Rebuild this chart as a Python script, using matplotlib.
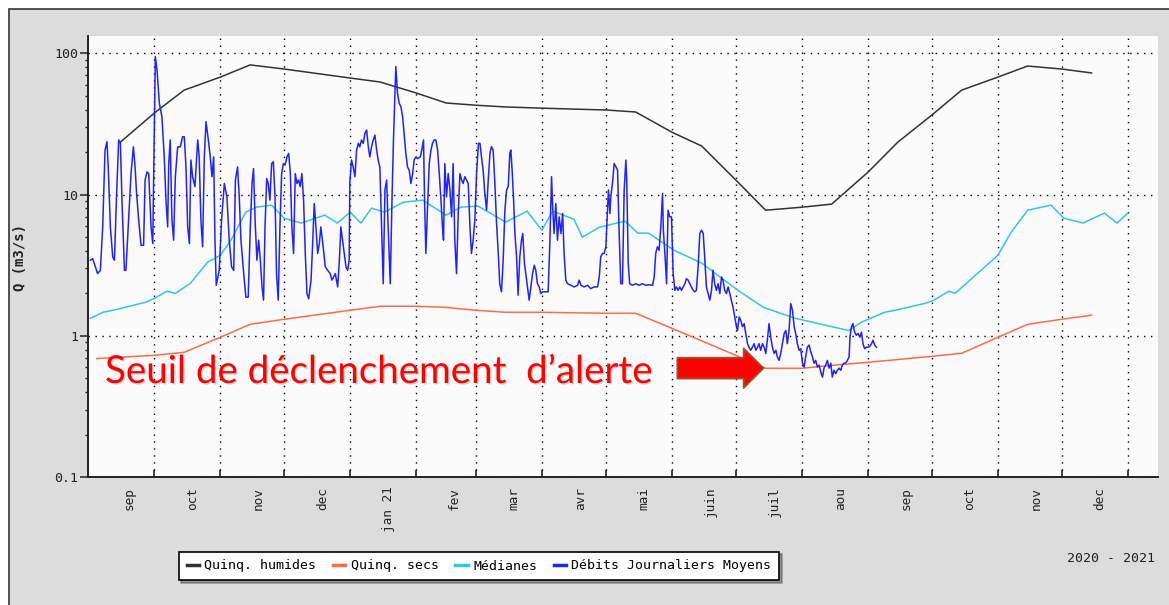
import numpy as np
import matplotlib

matplotlib.use("Agg")
import matplotlib.pyplot as plt
import matplotlib.dates as mdates
from matplotlib.patches import Rectangle
from matplotlib.lines import Line2D
from matplotlib.ticker import LogLocator, NullFormatter
from matplotlib import patheffects

W, H, DPI = 1169, 605, 100
MONO = "DejaVu Sans Mono"

# Quinquennale humide
hum_dates = ["2020-09-15", "2020-10-01", "2020-10-15", "2020-11-01", "2020-11-15", "2020-12-01",
             "2021-01-01", "2021-01-15", "2021-02-01", "2021-02-15", "2021-03-01", "2021-03-15",
             "2021-04-01", "2021-04-15", "2021-05-01", "2021-05-15", "2021-06-01", "2021-06-15",
             "2021-07-01", "2021-07-15", "2021-08-01", "2021-08-15", "2021-09-01", "2021-09-15",
             "2021-10-01", "2021-10-15", "2021-11-01", "2021-11-15", "2021-12-01", "2021-12-15"]
hum_vals = [23.5, 37.8, 55, 68, 83, 77.6, 67, 62.8, 52.5, 44.6, 43, 41.8, 41, 40.4, 39.8, 38.5,
            27.7, 22.1, 12.7, 7.76, 8.15, 8.57, 14.4, 23.5, 36.6, 55, 68, 81.5, 77.6, 72.8]

# Quinquennale seche
sec_dates = ["2020-09-04", "2020-10-01", "2020-10-15", "2020-11-01", "2020-11-15", "2020-12-01",
             "2021-01-01", "2021-01-15", "2021-02-01", "2021-02-15", "2021-03-01", "2021-03-15",
             "2021-04-01", "2021-05-01", "2021-05-15", "2021-06-01", "2021-07-01", "2021-07-15",
             "2021-08-01", "2021-08-15", "2021-09-01", "2021-10-01", "2021-10-15", "2021-11-01",
             "2021-11-15", "2021-12-01", "2021-12-15"]
sec_vals = [0.69, 0.728, 0.764, 0.976, 1.207, 1.31, 1.517, 1.62, 1.62, 1.59, 1.517, 1.468,
            1.468, 1.445, 1.445, 1.13, 0.728, 0.589, 0.589, 0.618, 0.649, 0.716, 0.752, 0.976,
            1.207, 1.31, 1.40]

# Medianes
med_dates = ["2020-09-01", "2020-09-07", "2020-09-12", "2020-09-27", "2020-10-01", "2020-10-07",
             "2020-10-11", "2020-10-18", "2020-10-26", "2020-11-01", "2020-11-06", "2020-11-13",
             "2020-11-18", "2020-11-25", "2020-12-01", "2020-12-09", "2020-12-20", "2020-12-26",
             "2021-01-01", "2021-01-06", "2021-01-11", "2021-01-17", "2021-01-26", "2021-02-04",
             "2021-02-15", "2021-02-22", "2021-03-02", "2021-03-15", "2021-03-25", "2021-04-01",
             "2021-04-06", "2021-04-16", "2021-04-20", "2021-04-28", "2021-05-02", "2021-05-10",
             "2021-05-16", "2021-05-21", "2021-06-02", "2021-06-15", "2021-07-02", "2021-07-14",
             "2021-07-29", "2021-08-23", "2021-08-29", "2021-09-09", "2021-09-14", "2021-09-28",
             "2021-10-02", "2021-10-09", "2021-10-12", "2021-11-01", "2021-11-07", "2021-11-15",
             "2021-11-26", "2021-12-02", "2021-12-11", "2021-12-21", "2021-12-27", "2022-01-01"]
med_vals = [1.33, 1.47, 1.52, 1.73, 1.84, 2.07, 2.00, 2.36, 3.32, 3.72, 4.76, 7.52,
            8.16, 8.43, 6.81, 6.29, 7.16, 6.29, 7.52, 6.29, 8.02, 7.52, 8.85, 9.14,
            7.16, 8.16, 8.30, 6.39, 7.64, 5.60, 7.64, 6.70, 5.00, 5.89, 6.08, 6.49,
            5.34, 5.34, 4.04, 3.27, 2.10, 1.59, 1.33, 1.09, 1.25, 1.47, 1.52, 1.70,
            1.79, 2.07, 2.00, 3.72, 5.34, 7.76, 8.43, 6.81, 6.29, 7.40, 6.29, 7.40]

# Debits journaliers (jours depuis le 01/09/2020)
blue_days_a = [0, 1.1, 3.4, 4.7, 5.8, 6.9, 7.8, 8.4, 9.4, 10.5, 11.3, 12.4, 13.3, 14.1, 14.9,
               16, 16.7, 17.8, 19.1, 20.2, 21, 21.7, 22.7, 23.8, 25, 25.7, 26.6, 27.4, 28.5, 29.3,
               30, 30.5, 31.3, 32.4, 33.6, 34.7, 35.5, 36.3, 36.8, 37.5, 38.3, 39.1, 39.9, 41,
               42.2, 43.3, 44.1, 44.9, 45.7, 46.5, 47.2, 48, 49.1, 50.4, 51.1, 51.9, 52.7, 53.5,
               54.3, 55.4, 56.3, 57.1, 57.9, 58.5, 59.1]
blue_vals_a = [3.43, 3.52, 2.76, 2.91, 5.91, 20.7, 23.7, 15.7, 5.91, 3.62, 3.43, 10.8, 24.4, 23.1,
               8.65, 2.91, 2.91, 5.91, 14.1, 21.8, 15.7, 10.2, 6.59, 4.38, 4.38, 12.7, 14.5, 14.1,
               5.91, 4.50, 28.7, 95, 76.4, 44.3, 35.7, 18.5, 9.14, 5.91, 16.6, 24.4, 6.59, 4.76,
               13.4, 21.8, 21.8, 25.7, 25.7, 15.7, 5.91, 4.50, 17.6, 13.4, 11.4, 24.4, 18.5, 6.59,
               4.27, 18.5, 32.9, 24.4, 18.5, 13.4, 18.5, 4.76, 2.28]

blue_days_b = [60.5, 61.6, 62.9, 64.1, 65.2, 66.3, 67.3, 68.1, 69.1, 69.9, 70.7, 72.0, 73.0, 74.1,
               75.1, 75.9, 76.6, 77.4, 78.2, 79.0, 79.8, 80.6, 81.3, 82.0, 82.8, 83.5, 84.3, 85.1,
               85.9, 86.7, 87.4, 88.2, 89.0, 89.8, 90.6, 91.4, 92.3, 93.1, 93.9, 94.6, 95.4, 96.2,
               97.0, 97.8, 98.5, 99.3, 100.1, 100.9, 101.7, 102.5, 103.6, 104.3, 105.1, 105.9,
               106.7, 107.5, 108.2, 109.3, 110.3, 111.4, 112.6, 113.4, 114.2, 115.0, 116.1, 116.9,
               117.6, 118.4, 119.2, 120.0, 120.8, 121.5]
blue_vals_b = [2.91, 6.59, 12.0, 9.66, 4.76, 3.08, 2.91, 12.7, 15.7, 9.66, 4.76, 2.76, 1.88, 1.88,
               5.91, 12.0, 15.3, 6.24, 3.43, 4.76, 3.43, 2.22, 1.79, 5.91, 13.0, 12.0, 9.14, 16.6,
               17.1, 9.66, 2.76, 1.79, 5.91, 14.1, 16.6, 16.2, 18.5, 19.6, 14.1, 5.91, 3.83, 14.1,
               12.0, 12.7, 11.4, 14.1, 9.14, 3.83, 1.99, 1.83, 2.48, 4.27, 8.65, 5.91,
               3.83, 4.50, 5.91, 4.27, 3.08, 2.91, 2.76, 2.48, 2.61, 2.76, 2.22, 3.43,
               5.91, 4.76, 3.83, 3.08, 2.91, 3.43]

blue_days_c = [121.8, 122.6, 123.4, 124.2, 125.0, 125.8, 126.5, 127.3, 128.1, 128.9, 129.7, 130.5,
               131.2, 132.0, 132.8, 133.6, 134.4, 135.1, 135.9, 136.7, 137.5, 138.3, 139.1, 139.8,
               140.8, 141.6, 142.3, 143.0, 143.4, 144.2, 145.0, 145.8, 146.6, 147.3, 148.1, 148.9,
               149.7, 150.5, 151.3, 152.0, 152.8, 153.6, 154.9, 155.6, 156.4, 156.9, 157.5, 158.3,
               159.1, 159.9, 160.6, 161.4, 162.2, 163.0, 163.8, 164.6, 165.3, 165.8, 166.4, 167.2,
               168.0, 168.8, 169.6, 170.3, 171.1, 171.9, 172.7, 173.5, 174.3, 175.0, 175.8, 176.6,
               177.4, 178.2, 178.9, 179.7, 180.5, 181.3, 182.2]
blue_vals_c = [12.0, 17.6, 15.7, 13.4, 20.7, 23.1, 21.8, 24.4, 23.1, 27.2, 28.7, 21.8,
               18.5, 21.8, 24.4, 26.4, 20.7, 17.6, 15.7, 5.91, 2.34, 10.8, 12.7, 5.91,
               2.34, 9.14, 24.4, 52.2, 80.7, 52.2, 44.3, 42.0, 35.7, 27.2, 19.6, 15.7,
               14.9, 12.0, 14.1, 17.6, 18.5, 18.0, 18.5, 20.7, 24.4, 9.14, 3.83, 8.19,
               16.6, 20.7, 23.1, 24.4, 24.4, 20.7, 14.1, 9.14, 5.91, 4.76, 16.6, 9.66,
               14.1, 10.8, 6.96, 16.6, 4.76, 2.76, 7.35, 14.1, 12.7, 12.0, 13.4, 12.7,
               12.0, 5.91, 3.83, 4.76, 6.59, 14.1, 23.1]

blue_days_d = [182.9, 183.6, 184.4, 185.2, 186.0, 186.8, 187.6, 188.3, 189.1, 189.9, 190.7, 191.5,
               192.2, 193.0, 193.8, 194.6, 195.4, 196.2, 196.9, 197.4, 198.0, 198.7, 199.3, 200.1,
               200.8, 201.6, 202.4, 203.0, 203.8, 204.6, 205.4, 206.0, 206.8, 207.6, 208.4, 209.1,
               209.9, 210.7, 211.5, 212.3, 213.4, 214.9, 215.7, 216.5, 217.1, 217.7, 218.5, 219.3,
               220.1, 220.9, 221.7, 222.4, 223.2, 224.0, 225.6, 227.1, 228.7, 229.5, 230.3, 231.8,
               233.4, 234.9, 236.5, 238.1, 238.9, 239.6, 240.4, 241.2, 242.0, 242.8, 243.2]
blue_vals_d = [23.1, 18.6, 14.9, 10.2, 7.76, 12.7, 19.6, 21.9, 20.7, 12.0, 6.25, 3.83,
               2.34, 2.05, 3.43, 7.76, 10.8, 11.4, 19.6, 20.7, 14.9, 9.14, 5.31, 3.63,
               1.94, 3.63, 4.76, 5.31, 3.25, 2.61, 2.10, 1.79, 2.22, 2.76, 3.16, 2.92,
               2.34, 2.22, 1.99, 2.05, 2.05, 2.05, 4.51, 13.4, 7.76, 5.31, 8.65, 4.76,
               6.96, 5.31, 7.35, 3.83, 2.48, 2.34, 2.28, 2.22, 2.28, 2.48, 2.28, 2.22,
               2.28, 2.16, 2.22, 2.22, 2.61, 3.63, 3.83, 3.83, 4.27, 7.76, 10.8]

blue_days_e = [243.9, 244.3, 245.1, 245.9, 246.7, 247.5, 248.2, 249.0, 249.8, 250.6,
               251.4, 251.8, 252.5, 253.2, 254.5, 256.1, 257.6, 259.2, 260.8, 262.3,
               263.9, 264.7, 265.4, 266.2, 267.0, 267.8, 268.6, 269.0, 269.8, 270.5,
               271.2, 272.0, 272.8, 273.6, 274.4, 275.1, 275.9, 276.7, 277.5, 278.3,
               279.1, 279.8, 280.6, 281.4, 282.2, 283.0, 283.7, 284.5, 285.3, 286.1,
               286.9, 287.7, 288.4, 289.2, 290.0, 290.8, 291.6, 292.3, 293.1, 293.9,
               294.7, 295.5, 296.3, 297.0, 297.8, 298.6, 299.4, 300.2, 300.9, 301.7,
               302.5, 303.3, 303.8, 304.6, 305.3, 306.1, 306.9, 307.7, 308.5, 309.2,
               310.0, 310.8, 311.6, 312.4, 313.2, 313.9, 314.7, 315.5, 316.3, 317.1,
               317.8, 318.6, 319.4, 320.2, 321.0, 321.8, 322.5, 323.3, 324.1, 324.9,
               325.7, 326.5, 327.2, 328.0, 328.8, 329.6, 330.4, 331.1, 331.9, 332.7,
               333.5, 334.3, 335.1, 335.8, 336.6, 337.4, 338.2, 339.0, 339.7, 340.5,
               341.3, 342.1, 342.9, 343.7, 344.4, 345.2, 346.0, 346.8, 347.6, 348.3,
               349.1, 349.9, 350.7, 351.5, 352.3, 353.0, 353.8, 354.6, 355.4, 356.2,
               356.6, 357.3, 358.0, 358.8, 359.6, 360.4, 361.2, 362.0, 362.7, 363.5,
               364.3, 365.1, 365.9, 366.7, 367.4, 368.2, 369.0]
blue_vals_e = [7.35, 9.66, 12.0, 16.6, 15.8, 14.9, 5.60, 2.34, 2.34, 10.8,
               17.6, 12.7, 3.25, 2.34, 2.28, 2.34, 2.28, 2.34, 2.28, 2.30,
               2.28, 2.61, 3.83, 4.27, 4.04, 5.91, 10.2, 5.60, 3.63, 2.34,
               7.76, 6.96, 6.96, 2.76, 2.10, 2.22, 2.10, 2.22, 2.10, 2.22,
               2.34, 2.54, 2.48, 2.34, 2.22, 2.10, 2.05, 2.10, 3.08, 5.31,
               5.60, 5.31, 3.63, 2.22, 1.99, 1.79, 2.10, 2.92, 2.34, 2.10,
               2.34, 1.99, 2.61, 2.48, 2.10, 1.99, 2.22, 1.99, 1.79, 1.60,
               1.36, 1.16, 1.09, 1.36, 1.29, 1.16, 1.22, 1.04, 0.88, 0.83,
               0.79, 0.83, 0.88, 0.79, 0.83, 0.88, 0.79, 0.88, 0.83, 0.75,
               0.93, 1.22, 0.98, 0.83, 0.75, 0.79, 0.71, 0.67, 0.75, 0.88,
               1.04, 1.09, 0.88, 1.09, 1.69, 1.52, 1.16, 1.04, 0.88, 0.79,
               0.81, 0.64, 0.60, 0.71, 0.83, 0.86, 0.77, 0.71, 0.64, 0.67,
               0.60, 0.62, 0.555, 0.51, 0.59, 0.62, 0.67, 0.59, 0.64, 0.51,
               0.57, 0.54, 0.57, 0.59, 0.57, 0.62, 0.64, 0.64, 0.67, 0.71,
               0.98, 1.16, 1.22, 1.06, 1.01, 1.04, 0.98, 1.06, 0.88, 0.81,
               0.83, 0.83, 0.84, 0.88, 0.93, 0.86, 0.83]

month_labels = ["sep", "oct", "nov", "dec", "jan 21", "fev", "mar", "avr", "mai", "juin",
                "juil", "aou", "sep", "oct", "nov", "dec"]
y_ticks = [0.1, 1, 10, 100]
y_ticklabels = ["0.1", "1", "10", "100"]
arrow_tip = ("2021-07-14", 0.59)


def to_num(dates):
    return mdates.date2num(np.array(dates, dtype="datetime64[D]"))


base = mdates.date2num(np.datetime64("2020-09-01"))
blue_x = base + np.concatenate([blue_days_a, blue_days_b, blue_days_c, blue_days_d, blue_days_e])
blue_y = np.concatenate([blue_vals_a, blue_vals_b, blue_vals_c, blue_vals_d, blue_vals_e])

fig = plt.figure(figsize=(W / DPI, H / DPI), dpi=DPI, facecolor="white")
# panneau gris avec bord sombre en haut et a gauche
fig.patches.append(Rectangle((9 / W, -0.05), 1.2, 1.05 - 9 / H, transform=fig.transFigure,
                             facecolor="#dcdcdc", edgecolor="#333333", linewidth=1.2, zorder=-10))

ax = fig.add_axes([88 / W, 1 - 477 / H, (1158 - 88) / W, (477 - 36) / H])
ax.set_facecolor("#fafbfa")

ax.plot(to_num(hum_dates), hum_vals, color="#333333", lw=1.1, label="Quinq. humides")
ax.plot(to_num(sec_dates), sec_vals, color="#ff6d4e", lw=1.1, label="Quinq. secs")
ax.plot(to_num(med_dates), med_vals, color="#35c4ea", lw=1.1, label="Médianes")
ax.plot(blue_x, blue_y, color="#2222ff", lw=1.1, label="Débits Journaliers Moyens")

ax.set_yscale("log")
ax.set_ylim(0.1, 133)
ax.set_xlim(base - 1.1, base + 501.2)

# grille mensuelle + libelles de mois au milieu
month_starts = np.arange("2020-10", "2022-02", dtype="datetime64[M]").astype("datetime64[D]")
label_pos = np.arange("2020-09", "2022-01", dtype="datetime64[M]").astype("datetime64[D]") + 18
ax.set_xticks(mdates.date2num(month_starts))
ax.set_xticks(mdates.date2num(label_pos), minor=True)
ax.set_xticklabels([], minor=False)
ax.set_xticklabels(month_labels, minor=True, rotation=90, family=MONO, fontsize=9.2, color="#222")
ax.tick_params(axis="x", which="major", direction="in", length=5, width=1.2, color="#222")
ax.tick_params(axis="x", which="minor", length=0, pad=7)

ax.set_yticks(y_ticks)
ax.set_yticklabels(y_ticklabels, family=MONO, fontsize=9.5, color="#222")
ax.yaxis.set_minor_locator(LogLocator(base=10, subs=np.arange(2, 10)))
ax.yaxis.set_minor_formatter(NullFormatter())
ax.tick_params(axis="y", which="major", direction="out", length=6, width=1.1, pad=1, color="#222")
ax.tick_params(axis="y", which="minor", direction="out", length=2.5, width=1.0, color="#222")

ax.grid(True, which="major", color="black", linestyle=(0, (1, 4)), linewidth=1.0)
ax.set_axisbelow(True)
for side in ("top", "right"):
    ax.spines[side].set_visible(False)
for side in ("left", "bottom"):
    ax.spines[side].set_linewidth(1.4)
    ax.spines[side].set_color("#222")

ax.set_ylabel("Q (m3/s)", family=MONO, weight="bold", fontsize=10, color="#222")
ax.yaxis.set_label_coords((27 - 88) / (1158 - 88), 0.497)

# fleche vers le seuil
ax.annotate("", xy=(to_num([arrow_tip[0]])[0], arrow_tip[1]), xytext=(-62, 0),
            textcoords="offset points",
            arrowprops=dict(arrowstyle="simple,head_length=0.95,head_width=1.9,tail_width=1.0",
                            mutation_scale=15, fc="#ff0000", ec="#a0522d", lw=1.3,
                            shrinkA=0, shrinkB=0))

handles = [Line2D([], [], color=l.get_color(), lw=2.5) for l in ax.get_lines()]
labels = [l.get_label() for l in ax.get_lines()]
leg = fig.legend(handles, labels, loc="center", bbox_to_anchor=(479 / W, 1 - 566 / H), ncol=4,
                 prop={"family": MONO, "size": 9.5}, frameon=True, fancybox=False, shadow=True,
                 handlelength=0.95, handletextpad=0.4, columnspacing=1.25, borderpad=0.6)
leg.get_frame().set_edgecolor("black")
leg.get_frame().set_linewidth(1.2)

fig.text(1155 / W, 1 - 558 / H, "2020 - 2021", ha="right", va="center", family=MONO,
         fontsize=9.5, color="#222")

txt = fig.text(105 / W, 1 - 383 / H, "Seuil de déclenchement  d\u2019alerte", color="#ff0000",
               family=["Lato", "DejaVu Sans"], fontsize=28, ha="left", va="baseline")
txt.set_path_effects([patheffects.SimplePatchShadow(offset=(1, -1), alpha=0.2),
                      patheffects.Normal()])
fig.canvas.draw()
wpx = txt.get_window_extent(fig.canvas.get_renderer()).width
txt.set_fontsize(28 * 548 / wpx)

fig.savefig("out.png", dpi=DPI)
